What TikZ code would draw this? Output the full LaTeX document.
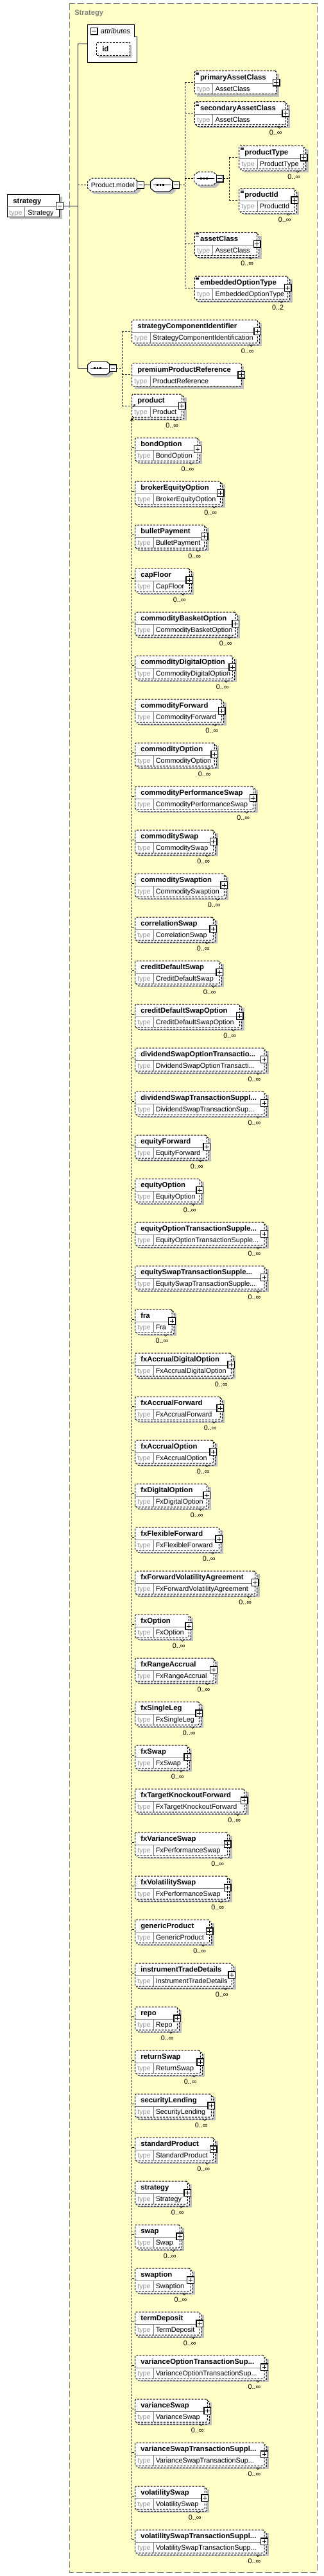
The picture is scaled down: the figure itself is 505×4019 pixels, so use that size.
\documentclass[tikz,border=0pt]{standalone}
\usepackage{fontspec}
\setmainfont{Liberation Sans}
\usetikzlibrary{arrows.meta}
\definecolor{bgyellow}{RGB}{255,255,200}
\definecolor{shgrey}{RGB}{192,192,192}
\definecolor{frgrey}{RGB}{128,128,128}
\definecolor{tygrey}{RGB}{150,150,150}
\definecolor{sepgrey}{RGB}{128,128,128}

\newcommand\dts{...}
\newcommand\pmbox[3]{\node[pmb] (#1) at (#2,#3) {};\draw[pml] (#2-3.3,#3) -- (#2+3.3,#3);}
\newcommand\ppbox[3]{\node[pmb] (#1) at (#2,#3) {};\draw[pml] (#2-3.3,#3) -- (#2+3.3,#3) (#2,#3-3.3) -- (#2,#3+3.3);}

\newcommand\elcore[6]{%
  \node[ebox,minimum width={(#4-(#2))*0.75pt},anchor=north west] (#1) at (#2,#3) {};
  \draw[sepl] (#2,#3+19.5) -- (#4,#3+19.5) (#2+28.5,#3+19.5) -- (#2+28.5,#3+36);
  \node[nametxt] (#1-n) at (#2+8.5,#3+13.5) {#5};
  \node[typelbl] (#1-t) at (#2+3.5,#3+31.5) {type};
  \node[typetxt] (#1-v) at (#2+32,#3+31.5) {#6};
  \ppbox{#1-p}{#4}{#3+18}
}
\newcommand\elM[7]{%
  \fill[shgrey] (#2+7,#3+5) rectangle (#4+7,#3+41);
  \draw[eline,fill=white,rounded corners=1.2pt] (#2+3,#3+3) rectangle (#4+3,#3+39);
  \elcore{#1}{#2}{#3}{#4}{#5}{#6}
  \draw[line width=0.5pt] (#4-13,#3+38.5) -- (#4-10,#3+41.5) -- (#4-7,#3+38.5);
  \node[multtxt] (#1-m) at (#4-15.5,#3+52) {#7};
}
\newcommand\elS[6]{%
  \fill[shgrey] (#2+4,#3+4) rectangle (#4+4,#3+40);
  \elcore{#1}{#2}{#3}{#4}{#5}{#6}
}
\newcommand\eqicon[2]{\draw[line width=0.6pt] (#1+2,#2+2) -- (#1+7,#2+2) (#1+2,#2+3.8) -- (#1+7,#2+3.8) (#1+2,#2+5.6) -- (#1+7,#2+5.6);}
\newcommand\compos[5]{%
  \fill[shgrey] (#2+10,#4-6.3) -- (#3-2,#4-6.3) -- (#3+4,#4-1.3) -- (#3+4,#4+9.3) -- (#3-2,#4+14.3) -- (#2+10,#4+14.3) -- (#2+4,#4+9.3) -- (#2+4,#4-1.3) -- cycle;
  \node[inner sep=0,outer sep=0,minimum width={(#3-(#2))*0.75pt},minimum height=15.45pt,anchor=west] (#1) at (#2,#4) {};
  \draw[#5,fill=white] (#2+6,#4-10.3) -- (#3-6,#4-10.3) -- (#3,#4-5.3) -- (#3,#4+5.3) -- (#3-6,#4+10.3) -- (#2+6,#4+10.3) -- (#2,#4+5.3) -- (#2,#4-5.3) -- cycle;
}
\newcommand\seqglyph[3]{%
  \draw[line width=0.75pt] (#1+4,#3) -- (#2-4,#3);
  \fill (#1+9.7,#3-1.3) rectangle ++(2.6,2.6);
  \fill (#1+14,#3-1.3) rectangle ++(2.6,2.6);
  \fill (#1+18.3,#3-1.3) rectangle ++(2.6,2.6);
}

\begin{document}
\begin{tikzpicture}[x=0.75pt,y=-0.75pt,
  eline/.style={line width=0.75pt,dash pattern=on 2.25pt off 1.5pt},
  ebox/.style={draw,eline,fill=white,rectangle,inner sep=0,outer sep=0,minimum height=27pt,rounded corners=1.2pt},
  sepl/.style={draw=sepgrey,line width=0.75pt},
  nametxt/.style={anchor=base west,inner sep=0,font=\fontsize{8.5}{10}\selectfont\bfseries},
  typelbl/.style={anchor=base west,inner sep=0,text=tygrey,font=\fontsize{8.1}{10}\selectfont},
  typetxt/.style={anchor=base west,inner sep=0,font=\fontsize{8.1}{10}\selectfont},
  multtxt/.style={anchor=base,inner sep=0,font=\fontsize{8.1}{10}\selectfont},
  pmb/.style={draw,line width=1.1pt,fill=white,rectangle,minimum size=7.9pt,inner sep=0,outer sep=0},
  pml/.style={line width=0.75pt},
  link/.style={line width=0.75pt},
  dlink/.style={line width=0.75pt,dash pattern=on 2.25pt off 1.5pt}]

\fill[white] (0,0) rectangle (505,4019);
\useasboundingbox (0,0) rectangle (505,4019);

% complex type frame
\draw[draw=frgrey,fill=bgyellow,line width=0.75pt,dash pattern=on 7.5pt off 3pt] (108.3,5.7) rectangle (494.3,4013);
\node[anchor=base west,inner sep=0,text=frgrey,font=\fontsize{8.4}{10}\selectfont\bfseries] (ctlabel) at (116,23.5) {Strategy};

% root element
\fill[shgrey] (15,307.3) rectangle (96.7,342.3);
\node[draw,line width=0.75pt,fill=white,inner sep=0,outer sep=0,minimum width={81.7*0.75pt},minimum height={35*0.75pt},anchor=north west] (root) at (11,303.3) {};
\draw[sepl] (11,322.7) -- (92.7,322.7) (38.7,322.7) -- (38.7,338.3);
\node[nametxt] (root-n) at (20,317) {strategy};
\node[typelbl] (root-t) at (14,335) {type};
\node[typetxt] (root-v) at (43,335) {Strategy};
\pmbox{root-m}{93}{321}

% trunk
\coordinate (tr-top) at (121.3,68.3);
\coordinate (tr-bot) at (121.3,574.3);
\draw[link] (root-m.east) -- (root-m.east -| tr-top);
\draw[link] (tr-top) -- (tr-bot);

% attributes
\draw[link,fill=white] (136.7,38.3) -- (209,38.3) -- (209,57.3) -- (213.3,57.3) -- (213.3,97.3) -- (136.7,97.3) -- cycle;
\coordinate (attr-w) at (136.7,68.3);
\draw[link] (tr-top) -- (attr-w);
\pmbox{attr-m}{146.7}{48.7}
\node[anchor=base west,inner sep=0,font=\fontsize{8.4}{10}\selectfont\itshape] (attr-n) at (156.7,52.5) {attributes};
\fill[shgrey] (154,69.5) rectangle (205.3,90);
\node[draw,eline,fill=white,inner sep=0,outer sep=0,minimum width={51.3*0.75pt},minimum height={20.7*0.75pt},anchor=north west] (id) at (150.7,66) {};
\node[nametxt] (id-n) at (159,80.5) {id};

% Product.model group
\compos{pmg}{136.7}{215}{288.5}{dlink}
\node[anchor=base west,inner sep=0,font=\fontsize{7.9}{10}\selectfont] (pmg-n) at (141.7,292.5) {Product.model};
\pmbox{pmg-m}{219}{288.5}
\draw[dlink] (tr-top |- pmg.west) -- (pmg.west);

\compos{sq1}{234.7}{270}{288.5}{link}
\seqglyph{234.7}{270}{288.5}
\pmbox{sq1-m}{274.3}{288.5}
\draw[link] (pmg-m.east) -- (sq1.west);
\coordinate (v1) at (288.3,288.5);
\draw[dlink] (sq1-m.east) -- (v1);

\elS{pac}{303.3}{110.7}{430.7}{primaryAssetClass}{AssetClass}
\eqicon{303.3}{110.7}
\elM{sac}{303.3}{158.7}{445.3}{secondaryAssetClass}{AssetClass}{0..∞}
\eqicon{303.3}{158.7}

\compos{sq2}{302.7}{338}{278.5}{dlink}
\seqglyph{302.7}{338}{278.5}
\pmbox{sq2-m}{342.7}{278.5}

\elM{pty}{372.7}{227.7}{473.7}{productType}{ProductType}{0..∞}
\eqicon{372.7}{227.7}
\elM{pid}{372.7}{294.3}{459.3}{productId}{ProductId}{0..∞}
\eqicon{372.7}{294.3}
\elM{acl}{303.3}{362.7}{400.7}{assetClass}{AssetClass}{0..∞}
\eqicon{303.3}{362.7}
\elM{eot}{303.3}{431}{448.7}{embeddedOptionType}{EmbeddedOptionType}{0..2}
\eqicon{303.3}{431}

\draw[dlink] (v1 |- pac.west) -- (v1 |- eot.west);
\foreach \n in {pac,sac,sq2,acl,eot} \draw[dlink] (v1 |- \n.west) -- (\n.west);

\coordinate (v2) at (357.3,278.5);
\draw[dlink] (sq2-m.east) -- (v2);
\draw[dlink] (v2 |- pty.west) -- (v2 |- pid.west);
\foreach \n in {pty,pid} \draw[dlink] (v2 |- \n.west) -- (\n.west);

% main sequence
\compos{sqm}{136.7}{172}{574.3}{link}
\seqglyph{136.7}{172}{574.3}
\pmbox{sqm-m}{176}{574.3}
\draw[link] (tr-bot) -- (sqm.west);
\coordinate (v3) at (190.3,574.3);
\draw[dlink] (sqm-m.east) -- (v3);

\elM{sci}{205.7}{499}{401.3}{strategyComponentIdentifier}{StrategyComponentIdentification}{0..∞}
\elS{ppr}{205.7}{566.7}{376.3}{premiumProductReference}{ProductReference}
\elM{prd}{205.7}{615}{283.7}{product}{Product}{0..∞}
\draw[-{Stealth[length=2.5pt,width=2.5pt]},line width=0.6pt] (207,635) -- (211,630.5);

\draw[dlink] (v3 |- sci.west) -- (v3 |- prd.west);
\foreach \n in {sci,ppr,prd} \draw[dlink] (v3 |- \n.west) -- (\n.west);

% substitution group
\coordinate (subend) at (205.7,3962);
\draw[dlink,{Stealth[length=4.5pt,width=4pt]}-] (prd.south west) -- (subend);

\foreach \xn/\xt/\xr [count=\i from 0] in {
bondOption/BondOption/308,
brokerEquityOption/BrokerEquityOption/343.7,
bulletPayment/BulletPayment/318.7,
capFloor/CapFloor/295.3,
commodityBasketOption/CommodityBasketOption/367.3,
commodityDigitalOption/CommodityDigitalOption/362.3,
commodityForward/CommodityForward/345.7,
commodityOption/CommodityOption/334.3,
commodityPerformanceSwap/CommodityPerformanceSwap/394.7,
commoditySwap/CommoditySwap/332.7,
commoditySwaption/CommoditySwaption/349.3,
correlationSwap/CorrelationSwap/332.3,
creditDefaultSwap/CreditDefaultSwap/342.3,
creditDefaultSwapOption/CreditDefaultSwapOption/373.7,
dividendSwapOptionTransactio\dts/DividendSwapOptionTransacti\dts/412,
dividendSwapTransactionSuppl\dts/DividendSwapTransactionSup\dts/412,
equityForward/EquityForward/322.3,
equityOption/EquityOption/311.3,
equityOptionTransactionSupple\dts/EquityOptionTransactionSupple\dts/412,
equitySwapTransactionSupple\dts/EquitySwapTransactionSupple\dts/412,
fra/Fra/268,
fxAccrualDigitalOption/FxAccrualDigitalOption/360.3,
fxAccrualForward/FxAccrualForward/343.3,
fxAccrualOption/FxAccrualOption/332.3,
fxDigitalOption/FxDigitalOption/322.3,
fxFlexibleForward/FxFlexibleForward/341.3,
fxForwardVolatilityAgreement/FxForwardVolatilityAgreement/397.7,
fxOption/FxOption/294.3,
fxRangeAccrual/FxRangeAccrual/333,
fxSingleLeg/FxSingleLeg/310.3,
fxSwap/FxSwap/292.3,
fxTargetKnockoutForward/FxTargetKnockoutForward/380.7,
fxVarianceSwap/FxPerformanceSwap/354.7,
fxVolatilitySwap/FxPerformanceSwap/354.7,
genericProduct/GenericProduct/326.7,
instrumentTradeDetails/InstrumentTradeDetails/361.3,
repo/Repo/276.3,
returnSwap/ReturnSwap/312.3,
securityLending/SecurityLending/329.3,
standardProduct/StandardProduct/332.7,
strategy/Strategy/292.3,
swap/Swap/280.3,
swaption/Swaption/297,
termDeposit/TermDeposit/311.3,
varianceOptionTransactionSup\dts/VarianceOptionTransactionSup\dts/412,
varianceSwap/VarianceSwap/323.3,
varianceSwapTransactionSuppl\dts/VarianceSwapTransactionSup\dts/412,
volatilitySwap/VolatilitySwap/319.3,
volatilitySwapTransactionSuppl\dts/VolatilitySwapTransactionSupp\dts/412} {
  \pgfmathsetmacro\tp{683+68*\i}
  \elM{s\i}{210.5}{\tp}{\xr}{\xn}{\xt}{0..∞}
  \coordinate (s\i-c) at ([yshift=2.25pt]s\i.west);
  \draw[dlink] (s\i-c -| subend) -- (s\i-c);
}
\end{tikzpicture}
\end{document}
